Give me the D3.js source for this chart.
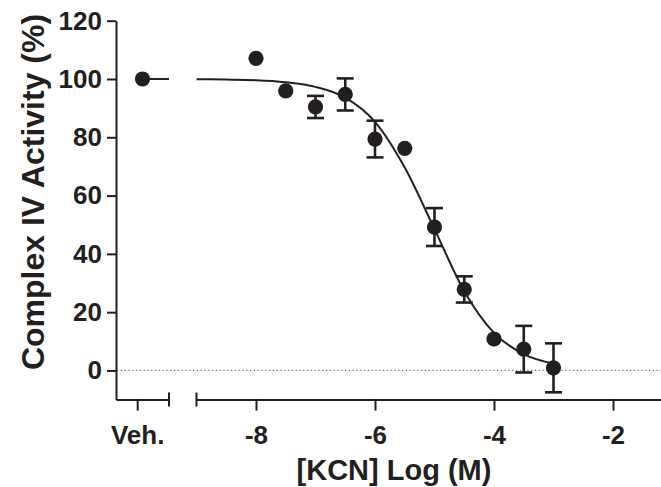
<!DOCTYPE html>
<html>
<head>
<meta charset="utf-8">
<script src="https://cdn.jsdelivr.net/npm/d3@7"></script>
<style>
    body { margin: 0; background: #fff; }
    svg { display: block; }
    text { font-family: "Liberation Sans", Arial, Helvetica, sans-serif; font-weight: bold; fill: #231f20; }
</style>
</head>
<body>
<svg id="chart" width="661" height="487"></svg>
<script>
// ==========================================
// 1. DATA
// ==========================================

// KCN concentrations, log(M)
const logConc = [-8, -7.5, -7, -6.5, -6, -5.5, -5, -4.5, -4, -3.5, -3];
// mean Complex IV activity (% of vehicle)
const activity = [107.1, 95.9, 90.4, 94.7, 79.4, 76.2, 49.2, 27.8, 10.8, 7.3, 0.9];
// error (0 = bar hidden behind the symbol)
const activityErr = [0, 0, 3.8, 5.5, 6.3, 0, 6.5, 4.5, 0, 8.0, 8.4];

// vehicle group, drawn on its own short axis segment
const vehLabel = "Veh.";
const vehActivity = 100;
const vehPointPos = 1;
const vehTickPos = 0.8;

// fitted dose-response curve, sampled every half log unit
const curveLogConc = [-9, -8.5, -8, -7.5, -7, -6.5, -6, -5.5, -5, -4.5, -4, -3.5, -3];
const curveActivity = [99.9, 99.8, 99.6, 98.9, 97.3, 93.6, 85.3, 69.6, 48.5, 27.2, 12.9, 5.6, 2.3];

// axes
const yTicks = [0, 20, 40, 60, 80, 100, 120];
const xTicks = [-8, -6, -4, -2];
const yTitle = "Complex IV Activity (%)";
const xTitle = "[KCN] Log (M)";

// ==========================================
// 2. SCALES
// ==========================================

const ink = "#231f20";
const svg = d3.select("#chart");

const y = d3.scaleLinear().domain([-10, 120]).range([399.6, 20.7]);
const xVeh = d3.scaleLinear().domain([0, 2]).range([116, 169]);
const x = d3.scaleLinear().domain([-9, -1]).range([196.5, 672.5]);

// ==========================================
// 3. AXES
// ==========================================

function styleAxis(g) {
    g.select(".domain").attr("stroke", ink).attr("stroke-width", 2);
    g.selectAll(".tick line").attr("stroke", ink).attr("stroke-width", 2);
    g.selectAll(".tick text")
        .attr("fill", ink)
        .style("font-size", "26px")
        .style("font-family", '"Liberation Sans", Arial, sans-serif')
        .style("font-weight", "bold");
}

// y axis
svg.append("g")
    .attr("transform", `translate(${xVeh(0)},0)`)
    .call(d3.axisLeft(y).tickValues(yTicks).tickSize(9).tickSizeOuter(0).tickPadding(5))
    .call(styleAxis);

const axisY = y(-10);

// vehicle segment of the x axis
svg.append("g")
    .attr("transform", `translate(0,${axisY})`)
    .call(d3.axisBottom(xVeh).tickValues([vehTickPos]).tickFormat(() => vehLabel)
        .tickSize(11).tickSizeOuter(0).tickPadding(15))
    .call(styleAxis);

// log concentration segment (plain hyphen as in the figure)
svg.append("g")
    .attr("transform", `translate(0,${axisY})`)
    .call(d3.axisBottom(x).tickValues(xTicks).tickFormat(d => String(d))
        .tickSize(11).tickSizeOuter(0).tickPadding(15))
    .call(styleAxis);

// end caps where the axis is broken
[xVeh(2), x(-9)].forEach(cx => {
    svg.append("line")
        .attr("x1", cx).attr("x2", cx)
        .attr("y1", axisY - 7).attr("y2", axisY + 7)
        .attr("stroke", ink).attr("stroke-width", 2);
});

// axis titles
svg.append("text")
    .attr("transform", `translate(44,${192}) rotate(-90)`)
    .attr("text-anchor", "middle")
    .style("font-size", "32px")
    .text(yTitle);

svg.append("text")
    .attr("x", 394)
    .attr("y", 480)
    .attr("text-anchor", "middle")
    .style("font-size", "29px")
    .text(xTitle);

// ==========================================
// 4. MARKS
// ==========================================

// dotted zero baseline
svg.append("line")
    .attr("x1", xVeh(0) + 1).attr("x2", 661)
    .attr("y1", y(0)).attr("y2", y(0))
    .attr("stroke", "#6d6e71")
    .attr("stroke-width", 1.2)
    .attr("stroke-dasharray", "1.2,2.6");

// vehicle level line
svg.append("line")
    .attr("x1", xVeh(vehPointPos)).attr("x2", xVeh(2))
    .attr("y1", y(vehActivity)).attr("y2", y(vehActivity))
    .attr("stroke", ink).attr("stroke-width", 2);

// fitted curve
const curvePts = curveLogConc.map((c, i) => [c, curveActivity[i]]);
svg.append("path")
    .datum(curvePts)
    .attr("fill", "none")
    .attr("stroke", ink)
    .attr("stroke-width", 2)
    .attr("d", d3.line().x(d => x(d[0])).y(d => y(d[1])).curve(d3.curveMonotoneX));

// error bars
const points = logConc.map((c, i) => ({ c, m: activity[i], e: activityErr[i] }));
const capHalf = 8.5;
const bars = svg.append("g")
    .attr("stroke", ink)
    .attr("stroke-width", 2.6)
    .selectAll("g")
    .data(points.filter(d => d.e > 0))
    .join("g");

bars.append("line")
    .attr("x1", d => x(d.c)).attr("x2", d => x(d.c))
    .attr("y1", d => y(d.m + d.e)).attr("y2", d => y(d.m - d.e));
bars.append("line")
    .attr("x1", d => x(d.c) - capHalf).attr("x2", d => x(d.c) + capHalf)
    .attr("y1", d => y(d.m + d.e)).attr("y2", d => y(d.m + d.e));
bars.append("line")
    .attr("x1", d => x(d.c) - capHalf).attr("x2", d => x(d.c) + capHalf)
    .attr("y1", d => y(d.m - d.e)).attr("y2", d => y(d.m - d.e));

// symbols
svg.append("g")
    .selectAll("circle")
    .data(points)
    .join("circle")
    .attr("cx", d => x(d.c))
    .attr("cy", d => y(d.m))
    .attr("r", 7.6)
    .attr("fill", ink);

svg.append("circle")
    .attr("cx", xVeh(vehPointPos))
    .attr("cy", y(vehActivity))
    .attr("r", 7.6)
    .attr("fill", ink);
</script>
</body>
</html>
